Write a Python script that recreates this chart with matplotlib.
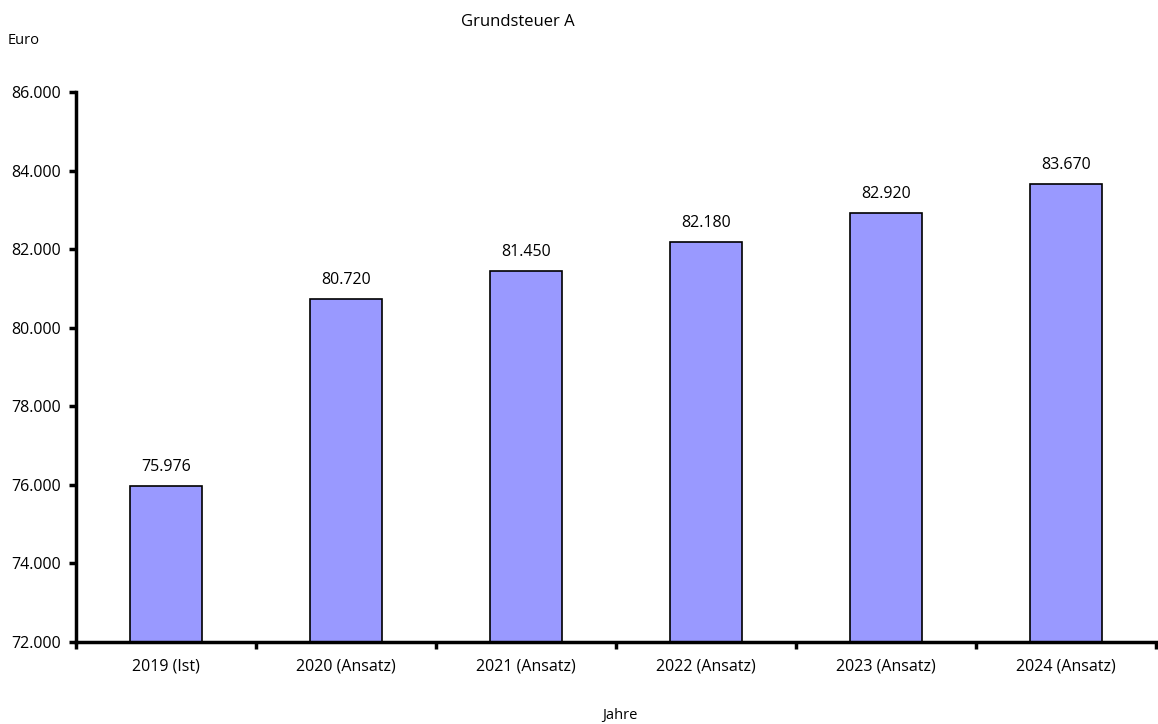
import numpy as np
import matplotlib.pyplot as plt
from matplotlib.ticker import FuncFormatter

# Data
years = ["2019 (Ist)", "2020 (Ansatz)", "2021 (Ansatz)", "2022 (Ansatz)",
         "2023 (Ansatz)", "2024 (Ansatz)"]
values = [75976, 80720, 81450, 82180, 82920, 83670]
y_ticks = [72000, 74000, 76000, 78000, 80000, 82000, 84000, 86000]

plt.rcParams['font.family'] = ['Open Sans', 'DejaVu Sans']


def de_fmt(v, pos=None):
    # German thousands separator
    return f"{int(round(v)):,}".replace(",", ".")


fig = plt.figure(figsize=(11.58, 7.24), dpi=100)
ax = fig.add_axes([76 / 1158, 82 / 724, 1080 / 1158, 550 / 724])

x = np.arange(len(years))
bars = ax.bar(x, values, width=0.4, color="#9999FF", edgecolor="black",
              linewidth=1.2)

for xi, v in zip(x, values):
    ax.text(xi, v + 280, de_fmt(v), ha="center", va="bottom", fontsize=11.5)

ax.set_xlim(-0.5, len(years) - 0.5)
ax.set_ylim(72000, 86000)
ax.set_yticks(y_ticks)
ax.yaxis.set_major_formatter(FuncFormatter(de_fmt))

# category labels centred, ticks between categories
ax.set_xticks(np.arange(-0.5, len(years)), minor=False)
ax.set_xticklabels([])
ax.set_xticks(x, minor=True)
ax.set_xticklabels(years, minor=True)
ax.tick_params(axis="x", which="minor", length=0, pad=12, labelsize=11.5)
ax.tick_params(axis="x", which="major", length=5, width=2.5, direction="out")
ax.tick_params(axis="y", length=5, width=2.5, direction="out", labelsize=11.5, pad=6)

for s in ["top", "right"]:
    ax.spines[s].set_visible(False)
ax.spines["left"].set_linewidth(2.5)
ax.spines["bottom"].set_linewidth(2.5)

fig.text(518 / 1158, 1 - 22 / 724, "Grundsteuer A", ha="center", va="center", fontsize=12)
fig.text(8 / 1158, 1 - 40 / 724, "Euro", ha="left", va="center", fontsize=10.5)
fig.text(620 / 1158, 1 - 716 / 724, "Jahre", ha="center", va="center", fontsize=10.5)

fig.savefig("out.png", dpi=100)
